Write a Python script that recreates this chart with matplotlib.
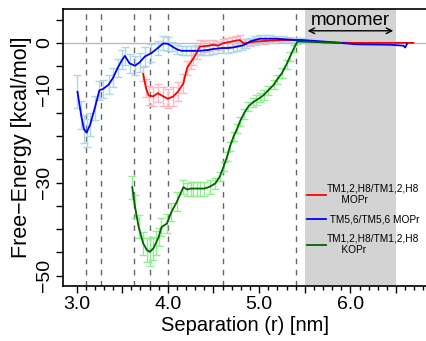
import numpy as np
import matplotlib.pyplot as plt

plt.rcParams['font.family'] = ['Liberation Sans', 'DejaVu Sans']

# TM5,6/TM5,6 MOPr (blue)
blue_x = [3.01, 3.05, 3.08, 3.11, 3.15, 3.20, 3.25, 3.29, 3.35, 3.40, 3.45, 3.50, 3.53,
          3.58, 3.64, 3.69, 3.75, 3.82, 3.89, 3.95, 4.00, 4.05, 4.10, 4.15, 4.20, 4.25,
          4.30, 4.35, 4.40, 4.45, 4.50, 4.55, 4.60, 4.66, 4.71, 4.76, 4.81, 4.86, 4.90,
          4.95, 5.01, 5.06, 5.12, 5.19, 5.26, 5.33, 5.40, 5.48, 5.70, 6.07, 6.43, 6.58,
          6.60, 6.62]
blue_y = [-10.5, -15.5, -18.5, -19.3, -17.5, -14.0, -10.2, -9.9, -9.0, -7.5, -5.4, -3.6, -2.8,
          -4.4, -4.9, -4.2, -2.9, -2.2, -1.1, -0.1, -0.2, -0.8, -1.4, -1.7, -1.7, -1.7,
          -1.7, -1.7, -1.6, -1.5, -1.3, -1.2, -1.1, -1.1, -1.0, -0.8, -0.6, -0.2, 0.3,
          0.6, 0.9, 0.9, 0.9, 0.9, 0.8, 0.7, 0.6, 0.6, 0.3, -0.3, -0.4, -0.6,
          -1.0, -0.2]
blue_err = [3.5, 3.0, 3.0, 3.0, 2.5, 2.5, 2.0, 2.0, 2.0, 2.0, 2.0, 2.0, 2.0,
            2.0, 2.0, 2.0, 2.0, 2.0, 1.5, 1.5, 1.5, 1.0, 1.0, 1.0, 1.0, 1.0,
            1.0, 1.0, 1.0, 1.0, 1.0, 1.0, 1.0, 1.0, 1.0, 1.0, 1.0, 1.0, 0.8,
            0.8, 0.7, 0.7, 0.7, 0.6, 0.6, 0.5, 0.5, 0.4, 0, 0, 0, 0,
            0, 0]

# TM1,2,H8/TM1,2,H8 MOPr (red)
red_x = [3.73, 3.76, 3.79, 3.84, 3.89, 3.95, 4.00, 4.06, 4.11, 4.17, 4.21, 4.25, 4.28,
         4.32, 4.35, 4.40, 4.45, 4.50, 4.55, 4.60, 4.65, 4.70, 4.75, 4.79, 4.83, 4.90,
         4.97, 5.05, 5.14, 5.23, 5.32, 5.42, 5.70, 6.07, 6.69]
red_y = [-6.7, -9.7, -11.3, -11.5, -10.8, -11.5, -12.0, -11.5, -10.5, -8.7, -5.4, -4.2, -3.3,
         -2.0, -0.8, -0.7, -0.6, -0.4, -0.6, -0.1, 0.1, 0.3, 0.5, 0.6, -0.1, 0.1,
         0.3, 0.4, 0.5, 0.6, 0.6, 0.6, 0.1, 0.0, 0.0]
red_err = [1.5, 2.0, 2.0, 2.0, 2.0, 2.0, 2.0, 2.0, 2.0, 2.0, 1.5, 1.5, 1.5,
           1.5, 1.5, 1.2, 1.2, 1.0, 1.0, 1.0, 1.0, 1.0, 1.0, 1.0, 1.0, 0.8,
           0.8, 0.7, 0.6, 0.5, 0.5, 0.4, 0, 0, 0]

# TM1,2,H8/TM1,2,H8 KOPr (green)
green_x = [3.61, 3.64, 3.68, 3.73, 3.77, 3.80, 3.84, 3.87, 3.90, 3.93, 3.99, 4.04, 4.10,
           4.17, 4.21, 4.25, 4.28, 4.32, 4.35, 4.40, 4.46, 4.52, 4.57, 4.61, 4.65, 4.68,
           4.72, 4.76, 4.79, 4.83, 4.88, 4.93, 4.97, 5.01, 5.05, 5.10, 5.16, 5.20, 5.25,
           5.30, 5.34, 5.38, 5.42, 5.60, 5.90]
green_y = [-31.0, -35.2, -39.5, -43.1, -44.5, -44.9, -44.2, -43.0, -41.7, -39.6, -38.8, -36.3, -34.1,
           -31.0, -31.5, -31.3, -31.3, -31.3, -31.3, -31.3, -30.9, -30.2, -28.7, -26.6, -24.4, -22.3,
           -20.1, -18.4, -16.9, -15.3, -13.7, -12.8, -12.3, -11.8, -11.2, -10.2, -9.0, -7.8, -6.5,
           -4.6, -2.9, -1.2, 0.3, 0.2, 0.0]
green_err = [2.5, 2.5, 2.5, 2.5, 2.5, 3.0, 2.5, 2.5, 2.0, 2.0, 2.0, 2.0, 2.0,
             1.5, 1.5, 1.5, 1.5, 1.5, 1.5, 1.5, 1.5, 1.2, 1.0, 1.0, 1.0, 1.0,
             1.0, 1.0, 1.0, 1.0, 1.0, 1.0, 1.0, 1.0, 1.0, 1.0, 1.0, 1.0, 1.0,
             1.0, 1.0, 0.8, 0.5, 0, 0]

dash_x = [3.1, 3.27, 3.63, 3.8, 4.0, 4.6, 5.4]
monomer_range = [5.5, 6.5]

series = [
    (red_x, red_y, red_err, 'red', '#ffb6c1', 'TM1,2,H8/TM1,2,H8\n     MOPr'),
    (blue_x, blue_y, blue_err, 'blue', '#add8e6', ' TM5,6/TM5,6 MOPr'),
    (green_x, green_y, green_err, 'darkgreen', '#90ee90', 'TM1,2,H8/TM1,2,H8\n     KOPr'),
]

fig = plt.figure(figsize=(4.26, 3.41), dpi=100)
ax = fig.add_axes([0.148, 0.161, 0.852, 0.813])

ax.axvspan(monomer_range[0], monomer_range[1], color='#d3d3d3', lw=0, zorder=0)
ax.axhline(0, color='#bbbbbb', lw=1, zorder=1)
for xv in dash_x:
    ax.axvline(xv, color='#666666', lw=1, ls=(0, (4, 4)), zorder=1)

for x, y, e, c, ec, lab in series:
    x = np.array(x); y = np.array(y); e = np.array(e)
    m = e > 0
    ax.errorbar(x[m], y[m], yerr=e[m], fmt='none', ecolor=ec, elinewidth=1,
                capsize=3, capthick=1, zorder=2)
for x, y, e, c, ec, lab in series:
    ax.plot(x, y, color=c, lw=1.3, label=lab, zorder=3)

ax.annotate('', xy=(monomer_range[0], 2.6), xytext=(monomer_range[1], 2.6),
            arrowprops=dict(arrowstyle='<->', color='black', lw=1))
ax.text(np.mean(monomer_range), 4.9, 'monomer', ha='center', va='center', fontsize=13.5)

ax.set_xlim(2.852, 6.828)
ax.set_ylim(-52.26, 7.31)

ax.set_xticks(np.arange(3.0, 6.6, 0.5))
ax.set_xticklabels(['3.0', '', '4.0', '', '5.0', '', '6.0', ''])
ax.set_xticks(np.arange(3.0, 6.85, 0.1), minor=True)
ax.set_yticks(np.arange(-50, 6, 5))
ylabs = {0: '0', -10: '\u221210', -30: '\u221230', -50: '\u221250'}
ax.set_yticklabels([ylabs.get(int(v), '') for v in np.arange(-50, 6, 5)],
                   rotation=90, va='center')
ax.tick_params(axis='both', which='major', labelsize=14, length=5, width=1, pad=2)
ax.tick_params(axis='x', which='minor', length=3, width=1)

ax.spines['right'].set_visible(False)
for s in ['left', 'top', 'bottom']:
    ax.spines[s].set_linewidth(1.2)

ax.set_xlabel('Separation (r) [nm]', fontsize=14.5, labelpad=2)
ax.set_ylabel('Free\u2212Energy [kcal/mol]', fontsize=15.5, labelpad=3)

leg = ax.legend(loc='upper left', bbox_to_anchor=(0.672, 0.37), frameon=False,
                fontsize=7.3, handlelength=1.9, handletextpad=0.1, labelspacing=0.9,
                borderpad=0, borderaxespad=0)

fig.savefig('out.png', dpi=100)
